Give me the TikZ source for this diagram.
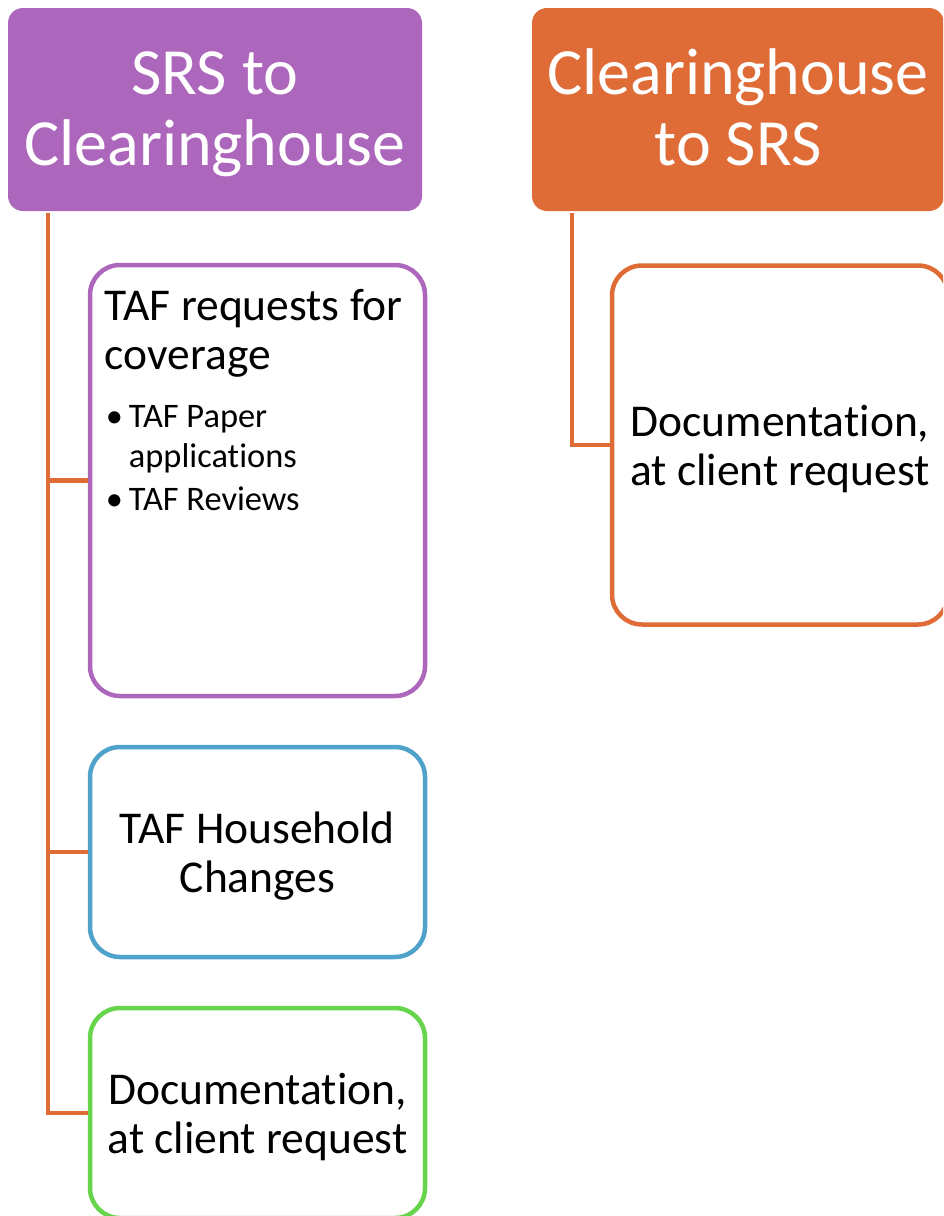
\documentclass[tikz,border=0pt]{standalone}
\usepackage{fontspec}
\setmainfont{Carlito}[Ligatures=NoCommon]
\definecolor{hpurple}{HTML}{AC66BB}
\definecolor{horange}{HTML}{DF6C37}
\definecolor{hblue}{HTML}{4FA3CB}
\definecolor{hgreen}{HTML}{66D54B}
\tikzset{
  header/.style={rounded corners=15pt, inner sep=0pt, minimum width=414pt, minimum height=203pt},
  headtext/.style={text=white, inner sep=0pt, align=center, font=\fontsize{66}{71}\selectfont},
  itembox/.style={draw, line width=4.5pt, rounded corners=30pt, fill=white, inner sep=0pt,
    minimum width=335pt},
  boxtext/.style={inner sep=0pt, align=center, font=\fontsize{45.5}{49}\selectfont},
  conn/.style={draw=horange, line width=4.5pt},
}
\begin{document}
\begin{tikzpicture}[x=1pt, y=-1pt]
\useasboundingbox (0,0) rectangle (943,1216);
\clip (0,0) rectangle (943,1216);

% column headers
\node[header, fill=hpurple] (h1) at (215,109.5) {};
\node[header, fill=horange, minimum width=412pt] (h2) at (738,109.5) {};
\node[headtext] (h1t) at ([yshift=-3pt]h1.center) {\vphantom{l}SRS to\\Clearinghouse};
\node[headtext] (h2t) at ([yshift=-3pt]h2.center) {Clearinghouse\\to SRS\vphantom{g}};

% left column boxes
\node[itembox, draw=hpurple, minimum height=431pt] (b1) at (257.5,480.5) {};
\node[itembox, draw=hblue, minimum height=210pt] (b2) at (257.5,852) {};
\node[itembox, draw=hgreen, minimum height=210pt] (b3) at (257.5,1113) {};
\node[boxtext] (b2t) at ([yshift=-4pt]b2.center) {TAF Household\\Changes};
\node[boxtext] (b3t) at ([yshift=-4pt]b3.center) {Documentation,\\at client request};

% right column box
\node[itembox, draw=horange, minimum width=336pt, minimum height=359pt] (r1) at (780,445) {};
\node[boxtext] (r1t) at ([yshift=-4pt]r1.center) {Documentation,\\at client request};

% text of the first box
\node[anchor=north west, inner sep=0pt, align=left, font=\fontsize{45.5}{49}\selectfont]
  (b1title) at ([xshift=17pt, yshift=-26pt]b1.north west) {TAF requests for\\coverage};
\node[anchor=north west, inner sep=0pt, align=left, font=\fontsize{34.4}{40}\selectfont]
  (b1list) at ([xshift=18pt, yshift=-142pt]b1.north west)
  {\makebox[23pt][l]{\textbullet}TAF Paper\\\hspace*{23pt}applications\\[3pt]\makebox[23pt][l]{\textbullet}TAF Reviews};

% connectors
\coordinate (s1) at ([xshift=40pt, yshift=-2pt]h1.south west);
\coordinate (s2) at ([xshift=40pt, yshift=-2pt]h2.south west);
\draw[conn] (s1) |- (b1.west);
\draw[conn] (s1) |- (b2.west);
\draw[conn] (s1) |- (b3.west);
\draw[conn] (s2) |- (r1.west);
\end{tikzpicture}
\end{document}
